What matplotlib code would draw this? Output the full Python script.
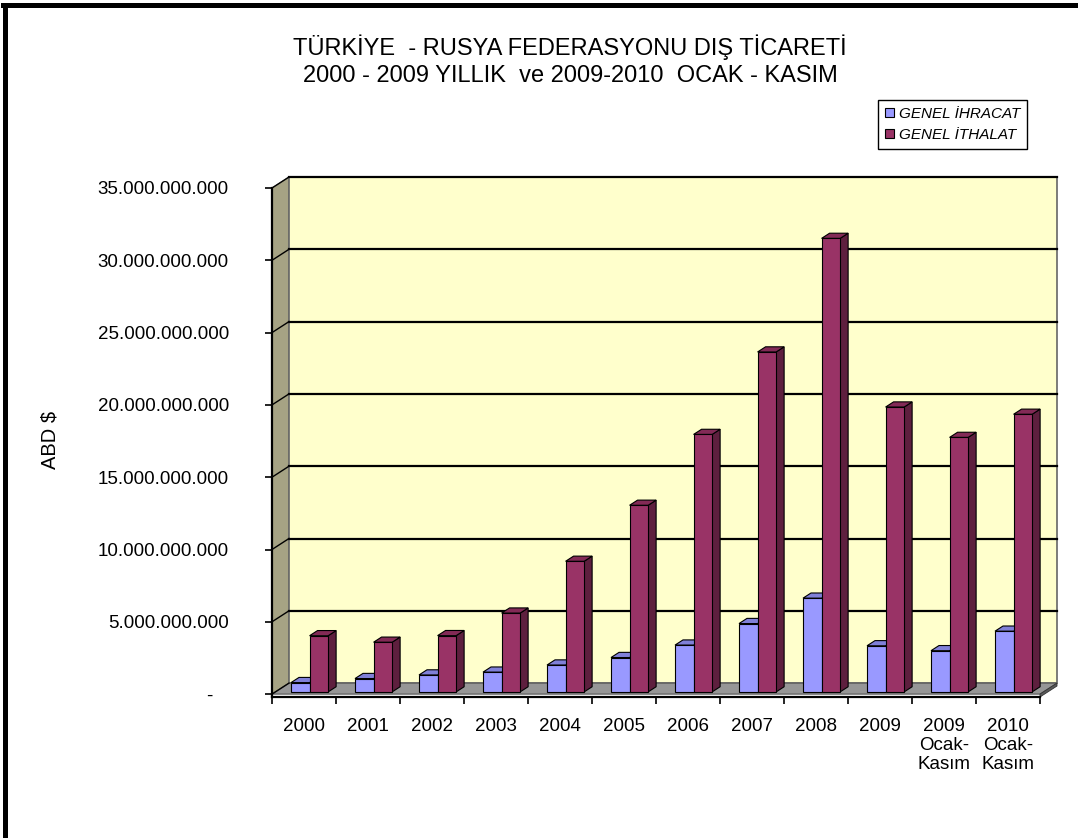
import matplotlib
matplotlib.use("Agg")
import matplotlib.pyplot as plt
from matplotlib.patches import Polygon, Patch
from matplotlib.lines import Line2D
from matplotlib.ticker import FuncFormatter, FixedLocator

plt.rcParams['font.family'] = ['Liberation Sans', 'DejaVu Sans']

# data (USD)
categories = ['2000', '2001', '2002', '2003', '2004', '2005', '2006', '2007', '2008',
              '2009', '2009\nOcak-\nKasım', '2010\nOcak-\nKasım']
ihracat = [0.644e9, 0.924e9, 1.172e9, 1.368e9, 1.859e9, 2.377e9, 3.238e9, 4.727e9,
           6.483e9, 3.190e9, 2.850e9, 4.200e9]
ithalat = [3.886e9, 3.436e9, 3.892e9, 5.451e9, 9.033e9, 12.906e9, 17.806e9, 23.508e9,
           31.364e9, 19.700e9, 17.600e9, 19.200e9]
legend_labels = ['GENEL İHRACAT', 'GENEL İTHALAT']
title_lines = ['TÜRKİYE  - RUSYA FEDERASYONU DIŞ TİCARETİ',
               '2000 - 2009 YILLIK  ve 2009-2010  OCAK - KASIM']
ylabel = 'ABD $'
yticks = [0, 5e9, 10e9, 15e9, 20e9, 25e9, 30e9, 35e9]

# colours
blue_front, blue_top, blue_side = '#9999FF', '#8080D8', '#5C5CA8'
red_front, red_top, red_side = '#993366', '#832A56', '#5E1F3E'
wall_col = '#FFFFCC'
side_wall_col = '#A6A384'
floor_col = '#969696'

W, H = 1078, 838
fig = plt.figure(figsize=(W / 100, H / 100), dpi=100)

# axes spans the front plane of the 3d box
y_bot = -0.2e9
ax = fig.add_axes([272 / W, (H - 697) / H, 768 / W, (697 - 188) / H])
ax.set_xlim(0, len(categories))
ax.set_ylim(y_bot, 35e9)
ax.patch.set_visible(False)

# depth offset of the back wall, in data units
px_x = len(categories) / 768.0
px_y = (35e9 - y_bot) / (697 - 188)
DX = 17 * px_x
DY = 11 * px_y
ytop = yticks[-1]
n = len(categories)

# side wall
ax.add_patch(Polygon([(0, 0), (DX, DY), (DX, ytop + DY), (0, ytop)], closed=True,
                     facecolor=side_wall_col, edgecolor='#777766', lw=0.8, zorder=0, clip_on=False))
# back wall
ax.add_patch(Polygon([(DX, DY), (n + DX, DY), (n + DX, ytop + DY), (DX, ytop + DY)], closed=True,
                     facecolor=wall_col, edgecolor='#666666', lw=1.2, zorder=0, clip_on=False))
# floor
ax.add_patch(Polygon([(0, 0), (n, 0), (n + DX, DY), (DX, DY)], closed=True,
                     facecolor=floor_col, edgecolor='#555555', lw=0.8, zorder=1, clip_on=False))
ax.add_patch(Polygon([(0, y_bot), (n, y_bot), (n, 0), (n + DX, DY), (n + DX, DY + y_bot), (n, y_bot)],
                     closed=True, facecolor='#5A5A5A', edgecolor='#333333', lw=0.6, zorder=1, clip_on=False))

# gridlines on back wall and side wall
for v in yticks[1:]:
    ax.plot([DX, n + DX], [v + DY, v + DY], color='black', lw=1.6, zorder=0.5, clip_on=False)
    ax.plot([0, DX], [v, v + DY], color='black', lw=1.0, zorder=0.5, clip_on=False)
ax.plot([0, DX], [0, DY], color='black', lw=1.0, zorder=1.5, clip_on=False)


def bar3d(xl, w, v, front, top, side, z):
    f0, f1 = 0.2, 0.67
    xr = xl + w
    ax.add_patch(Polygon([(xr + f0 * DX, f0 * DY), (xr + f0 * DX, v + f0 * DY),
                          (xr + f1 * DX, v + f1 * DY), (xr + f1 * DX, f1 * DY)], closed=True,
                         facecolor=side, edgecolor='black', lw=0.8, zorder=z, clip_on=False))
    ax.add_patch(Polygon([(xl + f0 * DX, v + f0 * DY), (xr + f0 * DX, v + f0 * DY),
                          (xr + f1 * DX, v + f1 * DY), (xl + f1 * DX, v + f1 * DY)], closed=True,
                         facecolor=top, edgecolor='black', lw=0.8, zorder=z, clip_on=False))
    ax.bar(xl + f0 * DX, v, width=w, bottom=f0 * DY, align='edge', color=front,
           edgecolor='black', lw=0.8, zorder=z, clip_on=False)


bw = 0.29
for i in range(n):
    x0 = i + 0.244
    bar3d(x0, bw, ihracat[i], blue_front, blue_top, blue_side, 3)
    bar3d(x0 + bw, bw, ithalat[i], red_front, red_top, red_side, 4)

# axes, ticks
for s in ['top', 'right']:
    ax.spines[s].set_visible(False)
ax.spines['left'].set_bounds(y_bot, ytop)
ax.spines['left'].set_linewidth(1.6)
ax.spines['bottom'].set_linewidth(1.6)


def yfmt(v, pos):
    if v == 0:
        return '-   '
    return f'{v:,.0f}'.replace(',', '.')


ax.yaxis.set_major_locator(FixedLocator(yticks))
ax.yaxis.set_major_formatter(FuncFormatter(yfmt))
ax.tick_params(axis='y', length=5, width=1.2, pad=26, labelsize=13.5)
ax.set_xticks(range(n + 1))
ax.set_xticklabels([])
ax.set_xticks([i + 0.5 for i in range(n)], minor=True)
ax.set_xticklabels(categories, minor=True, fontsize=13.5, linespacing=1.15, va='top')
ax.tick_params(axis='x', which='major', length=5, width=1.2)
ax.tick_params(axis='x', which='minor', length=0, pad=15)

fig.text(50 / W, 1 - 440 / H, ylabel, rotation=90, fontsize=14.5, ha='center', va='center')
fig.text(570 / W, 1 - 47 / H, title_lines[0], fontsize=17, ha='center', va='center')
fig.text(570 / W, 1 - 76 / H, title_lines[1], fontsize=17, ha='center', va='center')

handles = [Patch(facecolor=blue_front, edgecolor='black', lw=0.8),
           Patch(facecolor=red_front, edgecolor='black', lw=0.8)]
leg = fig.legend(handles, legend_labels, loc='upper left', bbox_to_anchor=(878 / W, 1 - 100 / H),
                 fancybox=False, framealpha=1, edgecolor='black', handlelength=0.6, handleheight=0.6,
                 handletextpad=0.3, borderpad=0.45, labelspacing=0.45, borderaxespad=0,
                 prop={'style': 'italic', 'size': 11})
leg.get_frame().set_linewidth(1.0)

# thick border on left and top
fig.add_artist(Line2D([5 / W, 5 / W], [0, 1 - 5 / H], color='black', lw=3.6, transform=fig.transFigure))
fig.add_artist(Line2D([3 / W, 1], [1 - 5 / H, 1 - 5 / H], color='black', lw=3.6, transform=fig.transFigure))

fig.savefig('out.png', dpi=100)
